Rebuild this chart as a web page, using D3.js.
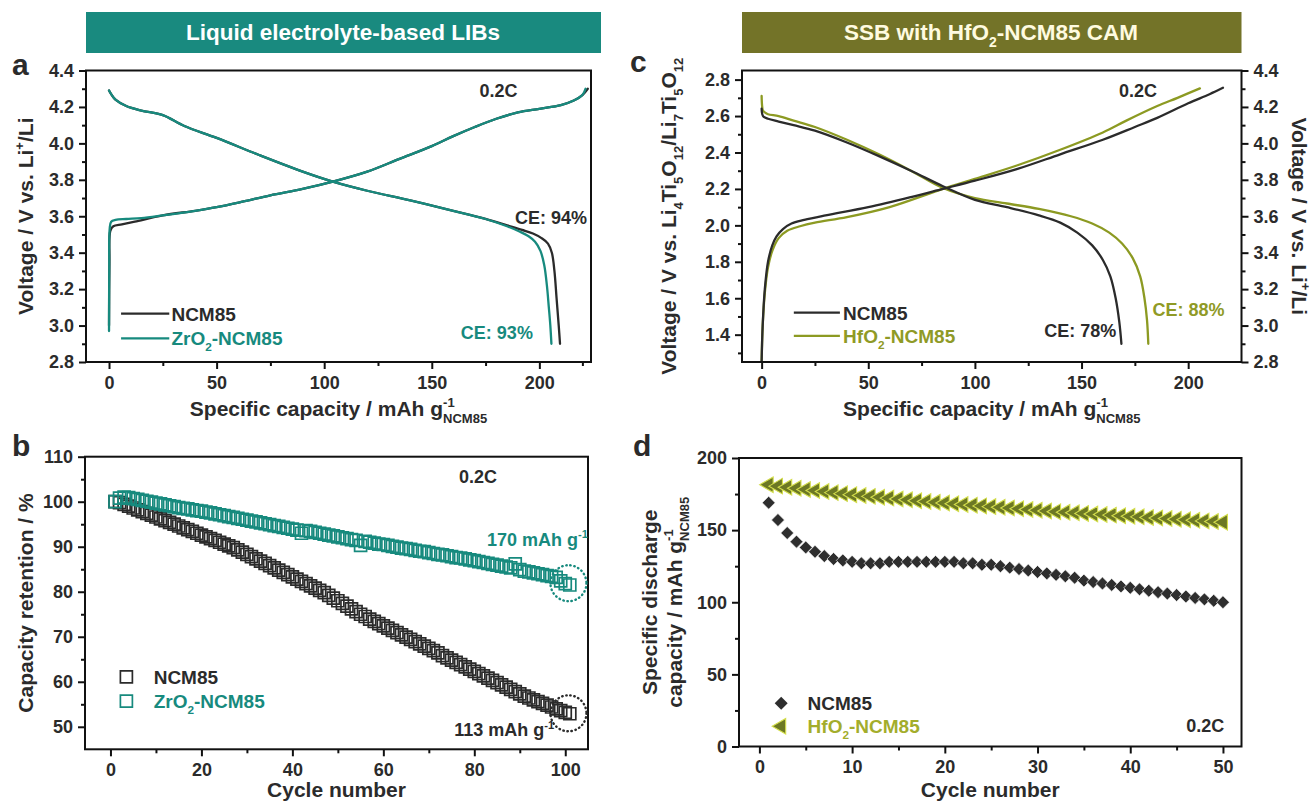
<!DOCTYPE html>
<html>
<head>
<meta charset="utf-8">
<script src="https://cdn.jsdelivr.net/npm/d3@7"></script>
<style>
  body { margin: 0; background: #fff; }
  text { font-family: "Liberation Sans", Arial, sans-serif; font-weight: bold; white-space: pre; }
</style>
</head>
<body>
<svg id="fig" width="1315" height="801"></svg>
<script>
// ---- panel a: liquid electrolyte, first cycle (capacity mAh/g, voltage V vs Li+/Li)
const aNcmChargeCap  = [0, 0.2, 0.6, 2, 6, 12, 25, 40, 50, 62, 75, 90, 104, 120, 135, 150, 160, 170, 180, 190, 200, 210, 216, 220, 222.5]
const aNcmChargeV    = [3.0, 3.35, 3.52, 3.545, 3.555, 3.57, 3.605, 3.63, 3.65, 3.68, 3.715, 3.75, 3.79, 3.845, 3.915, 3.985, 4.04, 4.09, 4.135, 4.17, 4.19, 4.21, 4.235, 4.265, 4.30]
const aZrChargeCap   = [0, 0.1, 0.3, 1, 3, 8, 15, 25, 40, 50, 62, 75, 90, 104, 120, 135, 150, 160, 170, 180, 190, 200, 210, 216, 220, 221.5]
const aZrChargeV     = [2.97, 3.3, 3.53, 3.57, 3.58, 3.585, 3.59, 3.605, 3.63, 3.65, 3.68, 3.715, 3.75, 3.79, 3.845, 3.915, 3.985, 4.04, 4.09, 4.135, 4.17, 4.19, 4.21, 4.235, 4.265, 4.30]
const aNcmDisCap     = [0, 1, 3, 8, 15, 25, 35, 50, 70, 90, 104, 120, 140, 160, 175, 185, 192, 197, 201, 204, 205.8, 207, 208, 209, 209.6]
const aNcmDisV       = [4.29, 4.27, 4.24, 4.205, 4.18, 4.155, 4.095, 4.03, 3.935, 3.845, 3.79, 3.74, 3.687, 3.63, 3.585, 3.55, 3.525, 3.505, 3.48, 3.45, 3.40, 3.30, 3.15, 3.0, 2.90]
const aZrDisCap      = [0, 1, 3, 8, 15, 25, 35, 50, 70, 90, 104, 120, 140, 160, 175, 185, 191, 195, 198, 200.5, 202.3, 203.5, 204.4, 205.1, 205.6]
const aZrDisV        = [4.29, 4.27, 4.24, 4.205, 4.18, 4.155, 4.095, 4.03, 3.935, 3.845, 3.79, 3.74, 3.687, 3.63, 3.585, 3.545, 3.515, 3.49, 3.46, 3.41, 3.33, 3.22, 3.1, 3.0, 2.90]

// ---- panel b: capacity retention (%), cycles 1..101
const bNcm = [100.0, 99.8, 99.4, 99.0, 98.6, 98.2, 97.8, 97.4, 97.0, 96.6,
  96.2, 95.8, 95.4, 95.0, 94.6, 94.2, 93.8, 93.4, 93.0, 92.6,
  92.2, 91.8, 91.4, 91.0, 90.6, 90.2, 89.8, 89.3, 88.8, 88.3,
  87.8, 87.3, 86.8, 86.3, 85.8, 85.3, 84.8, 84.3, 83.8, 83.3,
  82.8, 82.3, 81.8, 81.3, 80.8, 80.3, 79.8, 79.2, 78.6, 78.0,
  77.4, 76.8, 76.2, 75.6, 75.0, 74.5, 73.9, 73.4, 72.9, 72.4,
  71.9, 71.4, 70.9, 70.4, 69.9, 69.4, 68.9, 68.4, 67.9, 67.4,
  66.9, 66.4, 65.8, 65.3, 64.8, 64.3, 63.8, 63.3, 62.8, 62.3,
  61.8, 61.3, 60.8, 60.3, 59.8, 59.3, 58.8, 58.3, 57.8, 57.3,
  56.8, 56.4, 56.0, 55.6, 55.2, 54.8, 54.4, 54.0, 53.6, 53.2, 52.9]
const bZr = [100.0, 100.8, 101.0, 100.9, 100.7, 100.5, 100.3, 100.1, 99.9, 99.7,
  99.5, 99.3, 99.1, 98.9, 98.7, 98.5, 98.4, 98.2, 98.0, 97.9,
  97.7, 97.5, 97.3, 97.1, 96.9, 96.7, 96.5, 96.3, 96.1, 95.9,
  95.7, 95.5, 95.3, 95.1, 94.9, 94.7, 94.5, 94.3, 94.1, 93.9,
  93.7, 93.0, 93.6, 93.4, 93.2, 93.0, 92.8, 92.6, 92.4, 92.2,
  92.0, 91.8, 91.6, 91.4, 90.3, 91.2, 91.0, 90.8, 90.6, 90.5,
  90.3, 90.1, 89.9, 89.7, 89.6, 89.4, 89.2, 89.0, 88.9, 88.7,
  88.5, 88.3, 88.2, 88.0, 87.8, 87.6, 87.5, 87.3, 87.1, 86.9,
  86.7, 86.5, 86.3, 86.1, 85.9, 85.7, 85.5, 85.3, 86.2, 84.9,
  84.6, 84.4, 84.2, 84.0, 83.8, 83.6, 83.4, 83.2, 82.4, 81.8, 81.5]

// ---- panel c: SSB first cycle (V vs LTO, left axis)
const cNcmChargeCap = [0, 0.5, 1.5, 3, 5, 7, 10, 14, 20, 30, 50, 70, 85, 100, 120, 140, 160, 175, 185.5, 200, 210, 216.3]
const cNcmChargeV   = [1.25, 1.45, 1.65, 1.80, 1.89, 1.94, 1.98, 2.01, 2.03, 2.055, 2.10, 2.155, 2.20, 2.245, 2.31, 2.39, 2.47, 2.54, 2.59, 2.67, 2.72, 2.755]
const cHfChargeCap  = [0, 0.5, 1.5, 3, 5, 8, 12, 18, 25, 40, 60, 85, 100, 120, 140, 160, 171, 185.5, 195, 205.5]
const cHfChargeV    = [1.25, 1.45, 1.63, 1.77, 1.86, 1.93, 1.97, 1.995, 2.015, 2.045, 2.10, 2.20, 2.255, 2.33, 2.415, 2.51, 2.575, 2.655, 2.70, 2.752]
const cNcmDisCap    = [0, 0.3, 1, 3, 8, 15, 25, 40, 55, 70, 85, 100, 115, 130, 140, 148, 155, 160, 163.5, 166, 167.7, 168.7]
const cNcmDisV      = [2.64, 2.61, 2.595, 2.585, 2.57, 2.55, 2.52, 2.455, 2.38, 2.30, 2.215, 2.14, 2.10, 2.055, 2.015, 1.96, 1.89, 1.81, 1.72, 1.60, 1.47, 1.35]
const cHfDisCap     = [0, 0.2, 0.6, 1.5, 3, 8, 15, 25, 40, 55, 70, 85, 100, 115, 130, 145, 155, 163, 169, 174, 177.5, 179.5, 180.7, 181.3]
const cHfDisV       = [2.71, 2.66, 2.63, 2.62, 2.61, 2.60, 2.575, 2.54, 2.47, 2.39, 2.30, 2.205, 2.15, 2.12, 2.09, 2.05, 2.01, 1.96, 1.90, 1.82, 1.72, 1.60, 1.48, 1.35]

// ---- panel d: specific discharge capacity, cycles 1..50
const dNcm = [169, 157, 148, 142, 138, 135, 132, 130, 129, 128,
  127, 127, 127, 128, 128, 128, 128, 128, 128, 128,
  128, 127, 127, 126, 126, 125, 124, 123, 122, 121,
  120, 119, 118, 117, 115, 114, 113, 112, 111, 110,
  109, 108, 107, 106, 105, 104, 103, 102, 101, 100]
const dHf = [181.5, 180.5, 179.7, 179.0, 178.2, 177.5, 176.8, 176.0, 175.3, 174.6,
  174.0, 173.4, 172.8, 172.2, 171.6, 171.0, 170.4, 169.8, 169.3, 168.8,
  168.3, 167.8, 167.3, 166.8, 166.3, 165.8, 165.3, 164.8, 164.3, 163.8,
  163.3, 162.8, 162.4, 162.0, 161.6, 161.2, 160.8, 160.4, 160.0, 159.6,
  159.2, 158.8, 158.4, 158.0, 157.6, 157.2, 156.8, 156.4, 156.0, 155.5]

// tick labels
const aXTicks = [0, 50, 100, 150, 200]
const aYTicks = [2.8, 3.0, 3.2, 3.4, 3.6, 3.8, 4.0, 4.2, 4.4]
const bXTicks = [0, 20, 40, 60, 80, 100]
const bYTicks = [50, 60, 70, 80, 90, 100, 110]
const cYLeftTicks = [1.4, 1.6, 1.8, 2.0, 2.2, 2.4, 2.6, 2.8]
const cYRightTicks = [2.8, 3.0, 3.2, 3.4, 3.6, 3.8, 4.0, 4.2, 4.4]
const dXTicks = [0, 10, 20, 30, 40, 50]
const dYTicks = [0, 50, 100, 150, 200]

var dark = "#2b2b2b"
var teal = "#178a7e"
var olive = "#8c9a22"
var oliveText = "#8f9a26"

var tickFont = 18
var titleFont = 21
var legendFont = 19

var svg = d3.select("#fig")
svg.append("rect").attr("width", 1315).attr("height", 801).attr("fill", "#fff")

// text with sub/superscripts; parts: "txt" | [txt, "sub"|"sup"|"under"]
function rich (parent, x, y, parts, size, anchor, color) {
    var t = parent.append("text")
        .attr("x", x).attr("y", y)
        .attr("font-size", size)
        .attr("text-anchor", anchor || "start")
        .attr("fill", color || dark)
    var shift = 0
    var lastW = 0
    parts.forEach(function (p) {
        var s = typeof p === "string" ? p : p[0]
        var k = typeof p === "string" ? "" : p[1]
        var target = 0
        if (k === "sub" || k === "under") target = size * 0.32
        if (k === "sup") target = -size * 0.42
        var ts = t.append("tspan").text(s).attr("dy", target - shift)
        if (k) ts.attr("font-size", size * 0.62)
        if (k === "under") ts.attr("dx", -lastW)
        shift = target
        lastW = ts.node().getComputedTextLength()
    })
    return t
}

function frame (f) {
    svg.append("rect")
        .attr("x", f.l).attr("y", f.t)
        .attr("width", f.r - f.l).attr("height", f.b - f.t)
        .attr("fill", "none").attr("stroke", "#111").attr("stroke-width", 2)
}

function axis (f, scale, side, major, minor, fmt) {
    var mk = { left: d3.axisLeft, right: d3.axisRight, bottom: d3.axisBottom }[side]
    var pos = side === "left" ? `translate(${f.l},0)` : side === "right" ? `translate(${f.r},0)` : `translate(0,${f.b})`
    var g1 = svg.append("g").attr("transform", pos)
        .call(mk(scale).tickValues(minor).tickSize(4).tickFormat(""))
    var g2 = svg.append("g").attr("transform", pos)
        .call(mk(scale).tickValues(major).tickSize(7).tickPadding(side === "bottom" ? 7 : 5).tickFormat(fmt))
    ;[g1, g2].forEach(function (g) {
        g.select(".domain").remove()
        g.selectAll("line").attr("stroke", "#111").attr("stroke-width", 2)
        g.selectAll("text").attr("font-size", tickFont).attr("fill", dark)
            .style("font-family", "'Liberation Sans', Arial, sans-serif").style("font-weight", "bold")
    })
}

function curve (x, y, caps, volts, color, width) {
    var line = d3.line().x(function (d) { return x(d[0]) }).y(function (d) { return y(d[1]) })
        .curve(d3.curveCatmullRom.alpha(0.5))
    svg.append("path")
        .datum(caps.map(function (c, i) { return [c, volts[i]] }))
        .attr("d", line)
        .attr("fill", "none").attr("stroke", color).attr("stroke-width", width || 2.3)
        .attr("stroke-linejoin", "round").attr("stroke-linecap", "round")
}

function rotTitle (x, y, angle, parts, size) {
    var g = svg.append("g").attr("transform", `translate(${x},${y}) rotate(${angle})`)
    rich(g, 0, 0, parts, size, "middle")
}

var fmt1 = d3.format(".1f")
var fmt0 = d3.format("d")

// headers
svg.append("rect").attr("x", 86).attr("y", 12).attr("width", 515).attr("height", 41).attr("fill", "#198a7f")
rich(svg, 343, 40, ["Liquid electrolyte-based LIBs"], 22.5, "middle", "#fff")
svg.append("rect").attr("x", 742).attr("y", 12).attr("width", 499.5).attr("height", 41).attr("fill", "#737328")
rich(svg, 991, 40, ["SSB with HfO", ["2", "sub"], "-NCM85 CAM"], 22.5, "middle", "#fffbe0")

// panel labels
rich(svg, 12, 75, ["a"], 30)
rich(svg, 12, 456, ["b"], 30)
rich(svg, 630, 72, ["c"], 30)
rich(svg, 633, 456, ["d"], 30)

// ===== panel a
var FA = { l: 86, r: 591, t: 70.5, b: 362 }
var xa = d3.scaleLinear().domain([-10.7, 224]).range([FA.l, FA.r])
var ya = d3.scaleLinear().domain([2.8, 4.4]).range([FA.b, FA.t])
axis(FA, xa, "bottom", aXTicks, [25, 75, 125, 175, 220], fmt0)
axis(FA, ya, "left", aYTicks, [2.9, 3.1, 3.3, 3.5, 3.7, 3.9, 4.1, 4.3], fmt1)
curve(xa, ya, aNcmChargeCap, aNcmChargeV, dark)
curve(xa, ya, aNcmDisCap, aNcmDisV, dark)
curve(xa, ya, aZrChargeCap, aZrChargeV, teal)
curve(xa, ya, aZrDisCap, aZrDisV, teal)
frame(FA)
rich(svg, xa(181), ya(4.255), ["0.2C"], 18, "middle")
rich(svg, FA.r - 4, ya(3.555), ["CE: 94%"], 18, "end")
rich(svg, xa(197), ya(2.925), ["CE: 93%"], 18, "end", teal)
svg.append("line").attr("x1", xa(5.6)).attr("x2", xa(28)).attr("y1", ya(3.065)).attr("y2", ya(3.065)).attr("stroke", dark).attr("stroke-width", 2.3)
svg.append("line").attr("x1", xa(5.6)).attr("x2", xa(28)).attr("y1", ya(2.93)).attr("y2", ya(2.93)).attr("stroke", teal).attr("stroke-width", 2.3)
rich(svg, xa(29), ya(3.065) + 7, ["NCM85"], legendFont, "start")
rich(svg, xa(29), ya(2.93) + 7, ["ZrO", ["2", "sub"], "-NCM85"], legendFont, "start", teal)
rich(svg, (FA.l + FA.r) / 2, 416, ["Specific capacity / mAh g", ["-1", "sup"], ["NCM85", "under"]], titleFont, "middle")
rotTitle(33, (FA.t + FA.b) / 2, -90, ["Voltage / V vs. Li", ["+", "sup"], ["/Li", ""]], titleFont)

// ===== panel b
var FB = { l: 85, r: 588, t: 456.7, b: 749.3 }
var xb = d3.scaleLinear().domain([-5.6, 105]).range([FB.l, FB.r])
var yb = d3.scaleLinear().domain([45, 110]).range([FB.b, FB.t])
axis(FB, xb, "bottom", bXTicks, [10, 30, 50, 70, 90], fmt0)
axis(FB, yb, "left", bYTicks, [55, 65, 75, 85, 95, 105], fmt0)
var square = d3.symbol().type(d3.symbolSquare).size(144)
svg.append("g").selectAll("path").data(bNcm).enter().append("path")
    .attr("d", square)
    .attr("transform", function (d, i) { return `translate(${xb(i + 1)},${yb(d)})` })
    .attr("fill", "none").attr("stroke", dark).attr("stroke-width", 1.7)
svg.append("g").selectAll("path").data(bZr).enter().append("path")
    .attr("d", square)
    .attr("transform", function (d, i) { return `translate(${xb(i + 1)},${yb(d)})` })
    .attr("fill", "none").attr("stroke", teal).attr("stroke-width", 1.7)
frame(FB)
svg.append("circle").attr("cx", xb(100.7)).attr("cy", yb(81.9)).attr("r", 18)
    .attr("fill", "none").attr("stroke", teal).attr("stroke-width", 2.4).attr("stroke-dasharray", "0.5,3.6").attr("stroke-linecap", "round")
svg.append("circle").attr("cx", xb(100.7)).attr("cy", yb(53)).attr("r", 18)
    .attr("fill", "none").attr("stroke", dark).attr("stroke-width", 2.4).attr("stroke-dasharray", "0.5,3.6").attr("stroke-linecap", "round")
rich(svg, xb(80.8), yb(104.2), ["0.2C"], 18, "middle")
rich(svg, xb(82.8), yb(90.2), ["170 mAh g", ["-1", "sup"]], 18, "start", teal)
rich(svg, xb(75.6), yb(47.9), ["113 mAh g", ["-1", "sup"]], 18, "start")
svg.append("path").attr("d", square).attr("transform", `translate(${xb(3.5)},${yb(61.1)})`).attr("fill", "none").attr("stroke", dark).attr("stroke-width", 1.7)
svg.append("path").attr("d", square).attr("transform", `translate(${xb(3.5)},${yb(55.7)})`).attr("fill", "none").attr("stroke", teal).attr("stroke-width", 1.7)
rich(svg, xb(9.5), yb(61.1) + 7, ["NCM85"], legendFont, "start")
rich(svg, xb(9.5), yb(55.7) + 7, ["ZrO", ["2", "sub"], "-NCM85"], legendFont, "start", teal)
rich(svg, (FB.l + FB.r) / 2, 797, ["Cycle number"], titleFont, "middle")
rotTitle(33, (FB.t + FB.b) / 2, -90, ["Capacity retention / %"], titleFont)

// ===== panel c
var FC = { l: 742, r: 1241.5, t: 70.5, b: 362 }
var xc = d3.scaleLinear().domain([-9.2, 225]).range([FC.l, FC.r])
var ycL = d3.scaleLinear().domain([1.25, 2.85]).range([FC.b, FC.t])
var ycR = d3.scaleLinear().domain([2.8, 4.4]).range([FC.b, FC.t])
axis(FC, xc, "bottom", aXTicks, [25, 75, 125, 175], fmt0)
axis(FC, ycL, "left", cYLeftTicks, [1.3, 1.5, 1.7, 1.9, 2.1, 2.3, 2.5, 2.7], fmt1)
axis(FC, ycR, "right", cYRightTicks, [2.9, 3.1, 3.3, 3.5, 3.7, 3.9, 4.1, 4.3], fmt1)
curve(xc, ycL, cHfChargeCap, cHfChargeV, olive)
curve(xc, ycL, cHfDisCap, cHfDisV, olive)
curve(xc, ycL, cNcmChargeCap, cNcmChargeV, dark)
curve(xc, ycL, cNcmDisCap, cNcmDisV, dark)
frame(FC)
rich(svg, xc(176.5), ycL(2.705), ["0.2C"], 18, "middle")
rich(svg, xc(166.3), ycL(1.388), ["CE: 78%"], 18, "end")
rich(svg, xc(217), ycL(1.50), ["CE: 88%"], 18, "end", oliveText)
svg.append("line").attr("x1", xc(15.1)).attr("x2", xc(36.7)).attr("y1", ycL(1.521)).attr("y2", ycL(1.521)).attr("stroke", dark).attr("stroke-width", 2.3)
svg.append("line").attr("x1", xc(15.1)).attr("x2", xc(36.7)).attr("y1", ycL(1.393)).attr("y2", ycL(1.393)).attr("stroke", olive).attr("stroke-width", 2.3)
rich(svg, xc(38.2), ycL(1.521) + 7, ["NCM85"], legendFont, "start")
rich(svg, xc(38.2), ycL(1.393) + 7, ["HfO", ["2", "sub"], "-NCM85"], legendFont, "start", oliveText)
rich(svg, (FC.l + FC.r) / 2, 416, ["Specific capacity / mAh g", ["-1", "sup"], ["NCM85", "under"]], titleFont, "middle")
rotTitle(676, (FC.t + FC.b) / 2, -90,
    ["Voltage / V vs. Li", ["4", "sub"], ["Ti", ""], ["5", "sub"], ["O", ""], ["12", "sub"], ["/Li", ""], ["7", "sub"], ["Ti", ""], ["5", "sub"], ["O", ""], ["12", "sub"]], titleFont)
rotTitle(1292, (FC.t + FC.b) / 2, 90, ["Voltage / V vs. Li", ["+", "sup"], ["/Li", ""]], titleFont)

// ===== panel d
var FD = { l: 739, r: 1241.5, t: 458, b: 746.5 }
var xd = d3.scaleLinear().domain([-2.2, 52]).range([FD.l, FD.r])
var yd = d3.scaleLinear().domain([0, 200]).range([FD.b, FD.t])
axis(FD, xd, "bottom", dXTicks, [5, 15, 25, 35, 45], fmt0)
axis(FD, yd, "left", dYTicks, [25, 75, 125, 175], fmt0)
var diamond = d3.symbol().type(d3.symbolSquare).size(84)
var tri = d3.symbol().type(d3.symbolTriangle).size(105)
svg.append("g").selectAll("path").data(dHf).enter().append("path")
    .attr("d", tri)
    .attr("transform", function (d, i) { return `translate(${xd(i + 1)},${yd(d)}) rotate(-90)` })
    .attr("fill", "#6c7824").attr("stroke", "#d4de4c").attr("stroke-width", 1.1)
svg.append("g").selectAll("path").data(dNcm).enter().append("path")
    .attr("d", diamond)
    .attr("transform", function (d, i) { return `translate(${xd(i + 1)},${yd(d)}) rotate(45)` })
    .attr("fill", "#2e2e2e").attr("stroke", "#fff").attr("stroke-width", 0.6)
frame(FD)
svg.append("path").attr("d", diamond).attr("transform", `translate(${xd(2.35)},${yd(30)}) rotate(45)`).attr("fill", "#2e2e2e")
svg.append("path").attr("d", tri).attr("transform", `translate(${xd(2.35)},${yd(14)}) rotate(-90)`).attr("fill", "#6c7824").attr("stroke", "#d4de4c").attr("stroke-width", 1.1)
rich(svg, xd(5.2), yd(30) + 7, ["NCM85"], legendFont, "start")
rich(svg, xd(5.2), yd(14) + 7, ["HfO", ["2", "sub"], "-NCM85"], legendFont, "start", "#a3ad2c")
rich(svg, xd(48.1), yd(10.2), ["0.2C"], 18, "middle")
rich(svg, (FD.l + FD.r) / 2, 797, ["Cycle number"], titleFont, "middle")
rotTitle(657, (FD.t + FD.b) / 2, -90, ["Specific discharge"], titleFont)
rotTitle(682, (FD.t + FD.b) / 2, -90, ["capacity / mAh g", ["-1", "sup"], ["NCM85", "under"]], titleFont)
</script>
</body>
</html>
